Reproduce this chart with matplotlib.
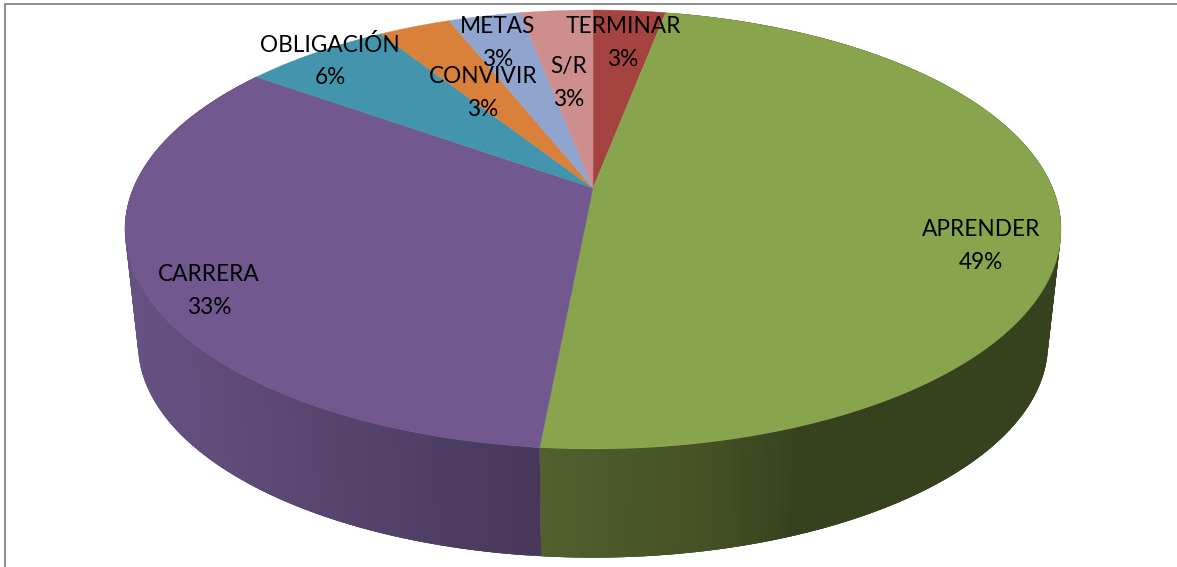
import numpy as np
import matplotlib
matplotlib.use("Agg")
import matplotlib.pyplot as plt

# valores (sentido horario desde arriba)
categorias = ["TERMINAR", "APRENDER", "CARRERA", "OBLIGACIÓN", "CONVIVIR", "METAS", "S/R"]
valores = [3.0, 48.5, 33.4, 6.1, 3.0, 3.0, 3.0]
porcentajes = [3, 49, 33, 6, 3, 3, 3]
colores = ["#A54341", "#88A54D", "#71588F", "#4295AD", "#D9803A", "#8FA5CF", "#CF8E8E"]

# posicion de cada etiqueta
pos_x = [623, 981, 209, 330, 483, 498, 569]
pos_y = [43, 246, 291, 61, 93, 43, 83]

plt.rcParams['font.family'] = ['Lato', 'DejaVu Sans']

fig = plt.figure(figsize=(11.77, 5.67), dpi=100)
ax = fig.add_axes([0, 0, 1, 1])
ax.set_xlim(0, 1177)
ax.set_ylim(567, 0)
ax.axis('off')

# perspectiva del circulo
k = 0.189
A = 459.6
B = 211.6


def proyectar(theta, cy, esc):
    u = np.sin(theta)
    v = np.cos(theta)
    w = 1 + k * v
    return 593 + esc * A * u / w, cy - esc * B * v / w


# color de la pared segun x
def pared(x, xs, rs, gs, bs):
    return (np.interp(x, xs, rs) / 255, np.interp(x, xs, gs) / 255, np.interp(x, xs, bs) / 255)


fracs = np.array(valores) / sum(valores) * 2 * np.pi
fin = np.cumsum(fracs)
ini = fin - fracs

# paredes visibles
sombras = {
    "CARRERA": ([125, 540], [102, 71], [82, 55], [130, 90]),
    "APRENDER": ([540, 700, 800, 1061], [80, 70, 54, 54], [96, 82, 66, 66], [46, 38, 30, 30]),
}
for i, nombre in enumerate(categorias):
    if nombre not in sombras:
        continue
    xs, rs, gs, bs = sombras[nombre]
    th = np.linspace(ini[i], fin[i], 160)
    x1, y1 = proyectar(th, 188, 1.0)
    x2, y2 = proyectar(th, 304, 0.972)
    # cada trozo pisa al siguiente para que no se vean rayas
    for j in range(len(th) - 1):
        e = min(j + 3, len(th) - 1)
        c = pared((x1[j] + x1[j + 1]) / 2, xs, rs, gs, bs)
        ax.fill(np.r_[x1[j:e + 1], x2[j:e + 1][::-1]], np.r_[y1[j:e + 1], y2[j:e + 1][::-1]],
                color=c, lw=0)

# cara superior
for i in range(len(valores)):
    th = np.linspace(ini[i], fin[i], 200)
    x1, y1 = proyectar(th, 188, 1.0)
    ax.fill(np.r_[593, x1], np.r_[188, y1], color=colores[i], lw=0.3)

# etiquetas
for i, nombre in enumerate(categorias):
    ax.text(pos_x[i], pos_y[i], f"{nombre}\n{porcentajes[i]}%", ha='center', va='center',
            fontsize=16.3, color='black', linespacing=1.66)

# marco del grafico
ax.plot([5, 5, 1177], [567, 4, 4], color='#8C8C8C', lw=1.4, solid_joinstyle='miter')

fig.savefig("out.png", dpi=100)
